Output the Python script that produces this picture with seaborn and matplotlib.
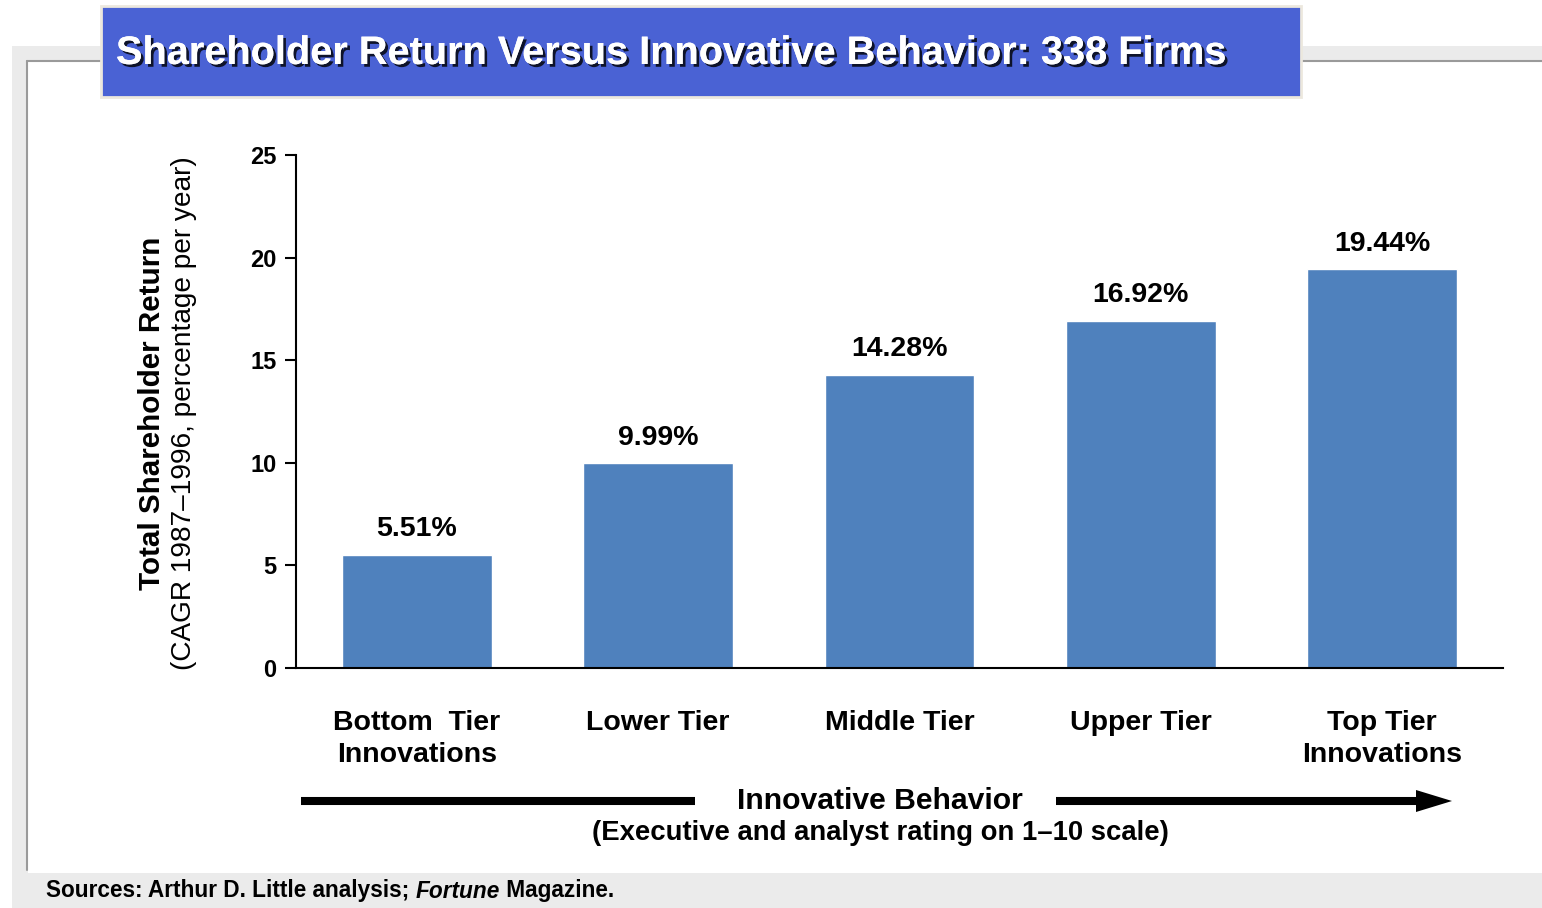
import matplotlib
matplotlib.use("Agg")
import matplotlib.pyplot as plt
import seaborn as sns
import pandas as pd
import matplotlib.patheffects as pe
from matplotlib.patches import Rectangle, Polygon

tiers = ["Bottom  Tier\nInnovations", "Lower Tier", "Middle Tier", "Upper Tier", "Top Tier\nInnovations"]
returns = [5.51, 9.99, 14.28, 16.92, 19.44]
yticks = [0, 5, 10, 15, 20, 25]

df = pd.DataFrame({"tier": tiers, "ret": returns})

sns.set_theme(style="white")
plt.rcParams["font.family"] = ["Liberation Sans", "DejaVu Sans"]
plt.rcParams["text.color"] = "black"
plt.rcParams["axes.labelcolor"] = "black"
plt.rcParams["xtick.color"] = "black"
plt.rcParams["ytick.color"] = "black"

W, H = 1542, 908
fig = plt.figure(figsize=(W / 100, H / 100), dpi=100)


def fx(x):
    return x / W


def fy(y):
    return 1 - y / H


# slide frame
gray = "#ebebeb"
fig.add_artist(Rectangle((fx(12), fy(873)), fx(16), fy(46) - fy(873), transform=fig.transFigure,
                         facecolor=gray, edgecolor="none", zorder=0))
fig.add_artist(Rectangle((fx(12), fy(61)), 1, fy(46) - fy(61), transform=fig.transFigure,
                         facecolor=gray, edgecolor="none", zorder=0))
fig.add_artist(Rectangle((fx(12), 0), 1, fy(873), transform=fig.transFigure,
                         facecolor=gray, edgecolor="none", zorder=0))
fig.add_artist(plt.Line2D([fx(27), fx(27)], [fy(61), fy(870)], transform=fig.transFigure,
                          color="#9a9a9a", lw=1.5, zorder=1))
fig.add_artist(plt.Line2D([fx(27), 1], [fy(61), fy(61)], transform=fig.transFigure,
                          color="#9a9a9a", lw=1.5, zorder=1))

# title box
fig.add_artist(Rectangle((fx(101), fy(97)), fx(1200), fy(6) - fy(97), transform=fig.transFigure,
                         facecolor="#4a62d4", edgecolor="#ece8de", lw=2, zorder=2))
fig.text(fx(116), fy(53), "Shareholder Return Versus Innovative Behavior: 338 Firms",
         color="white", fontsize=28.6, fontweight="bold", va="center", ha="left", zorder=3,
         path_effects=[pe.withSimplePatchShadow(offset=(2, -2), shadow_rgbFace="black", alpha=0.8),
                       pe.Normal()])

ax = fig.add_axes([fx(296), fy(668), fx(1503) - fx(296), fy(155) - fy(668)])
ax.patch.set_alpha(0)
sns.barplot(data=df, x="tier", y="ret", color="#4f81bd", width=0.62, saturation=1, ax=ax)
ax.bar_label(ax.containers[0], fmt="%.2f%%", padding=9, fontsize=20.5, fontweight="bold")

ax.set_ylim(0, 25)
ax.set_yticks(yticks)
ax.set_yticklabels([str(t) for t in yticks], fontsize=17, fontweight="bold")
ax.tick_params(axis="y", direction="out", length=8, width=1.5, color="black", pad=6, left=True)
ax.tick_params(axis="x", length=0, pad=30, labelsize=20.5)
for lab in ax.get_xticklabels():
    lab.set_fontweight("bold")
    lab.set_linespacing(1.3)
ax.set_xlabel("")
ax.set_ylabel("")
sns.despine(ax=ax)
ax.spines["left"].set_linewidth(1.5)
ax.spines["bottom"].set_linewidth(1.5)
ax.spines["left"].set_color("black")
ax.spines["bottom"].set_color("black")

# y axis label
fig.text(fx(152), fy(413), "Total Shareholder Return", rotation=90, fontsize=21.3,
         fontweight="bold", ha="center", va="center")
fig.text(fx(184), fy(413), "(CAGR 1987\u20131996, percentage per year)", rotation=90, fontsize=20.2,
         ha="center", va="center")

# x axis caption with arrow
fig.text(fx(880), fy(801), "Innovative Behavior", fontsize=21.7, fontweight="bold",
         ha="center", va="center")
fig.text(fx(880), fy(833), "(Executive and analyst rating on 1\u201310 scale)", fontsize=19.8,
         fontweight="bold", ha="center", va="center")
fig.add_artist(plt.Line2D([fx(301), fx(695)], [fy(801), fy(801)], transform=fig.transFigure,
                          color="black", lw=5.8, solid_capstyle="butt"))
fig.add_artist(plt.Line2D([fx(1056), fx(1418)], [fy(801), fy(801)], transform=fig.transFigure,
                          color="black", lw=5.8, solid_capstyle="butt"))
fig.add_artist(Polygon([[fx(1416), fy(790)], [fx(1452), fy(801)], [fx(1416), fy(812)]],
                       closed=True, transform=fig.transFigure, facecolor="black", edgecolor="none"))

# sources line
renderer = fig.canvas.get_renderer()
x0 = fx(46)
parts = [("Sources: Arthur D. Little analysis; ", "normal"), ("Fortune", "italic"), (" Magazine.", "normal")]
for txt, style in parts:
    t = fig.text(x0, fy(891), txt, fontsize=16.3, fontweight="bold", fontstyle=style,
                 ha="left", va="center")
    bb = t.get_window_extent(renderer=renderer)
    x0 += bb.width / W

fig.savefig("out.png", dpi=100)
